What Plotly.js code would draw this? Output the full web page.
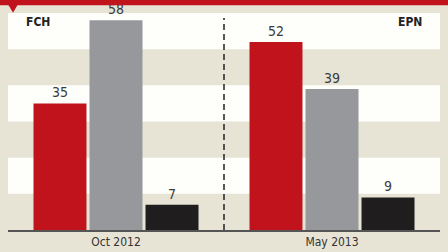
<!DOCTYPE html>
<html>
<head>
<meta charset="utf-8">
<script src="https://cdn.plot.ly/plotly-3.0.1.min.js"></script>
<style>html,body{margin:0;padding:0;background:#e7e4d6;}#chart{width:448px;height:252px;}</style>
</head>
<body>
<div id="chart"></div>
<script>
const categories = ['Oct 2012', 'May 2013'];
const redValues = [35, 52];
const grayValues = [58, 39];
const blackValues = [7, 9];
const groupLabels = ['FCH', 'EPN'];
const bandStarts = [10, 30, 50];

const FONT = 'Liberation Sans Narrow, DejaVu Sans Condensed, Roboto, sans-serif';
const BG = '#e7e4d6';
const RED = '#c0131c';

function barTrace(vals, color) {
  return {
    type: 'bar', x: categories, y: vals,
    marker: {color: color, line: {width: 0}},
    text: vals.map(String), textposition: 'outside', cliponaxis: false,
    textfont: {family: FONT, size: 14, color: '#3a3a3a'},
    hoverinfo: 'none'
  };
}

const data = [barTrace(redValues, RED), barTrace(grayValues, '#97989c'), barTrace(blackValues, '#1f1d1d')];

const shapes = bandStarts.map(s => ({
  type: 'rect', xref: 'paper', yref: 'y', x0: 0, x1: 1, y0: s, y1: s + 10,
  fillcolor: '#fefefb', line: {width: 0}, layer: 'below'
}));
shapes.push({type: 'line', xref: 'x', yref: 'paper', x0: 0.5, x1: 0.5, y0: 0, y1: 0.977,
  line: {color: '#222', width: 1.5, dash: '6px,4px'}});
shapes.push({type: 'rect', xref: 'paper', yref: 'paper', x0: -0.02, x1: 1.02, y0: 1.036, y1: 1.07,
  fillcolor: RED, line: {width: 0}});
shapes.push({type: 'path', xref: 'paper', yref: 'paper',
  path: 'M 0,1.04 L 0.0231,1.04 L 0.0116,1.0014 Z', fillcolor: RED, line: {width: 0}});

const layout = {
  width: 448, height: 252,
  margin: {l: 8, r: 8, t: 13, b: 22},
  paper_bgcolor: BG, plot_bgcolor: BG,
  showlegend: false,
  barmode: 'group', bargap: 0.222, bargroupgap: 0.054,
  xaxis: {type: 'category', range: [-0.5, 1.5], showline: true, linecolor: '#555', linewidth: 1.5,
    ticks: '', showgrid: false, zeroline: false, fixedrange: true,
    tickfont: {family: FONT, size: 12, color: '#333'}},
  yaxis: {range: [0, 60], showticklabels: false, showgrid: false, zeroline: false, ticks: '', fixedrange: true},
  shapes: shapes,
  annotations: [
    {xref: 'paper', yref: 'paper', x: 30 / 432, y: 1 - 9 / 217, text: '<b>' + groupLabels[0] + '</b>', showarrow: false,
      font: {family: FONT, size: 12, color: '#222'}, xanchor: 'center', yanchor: 'middle'},
    {xref: 'paper', yref: 'paper', x: 402 / 432, y: 1 - 9 / 217, text: '<b>' + groupLabels[1] + '</b>', showarrow: false,
      font: {family: FONT, size: 12, color: '#222'}, xanchor: 'center', yanchor: 'middle'}
  ]
};

Plotly.newPlot('chart', data, layout, {displayModeBar: false, staticPlot: true});
</script>
</body>
</html>
